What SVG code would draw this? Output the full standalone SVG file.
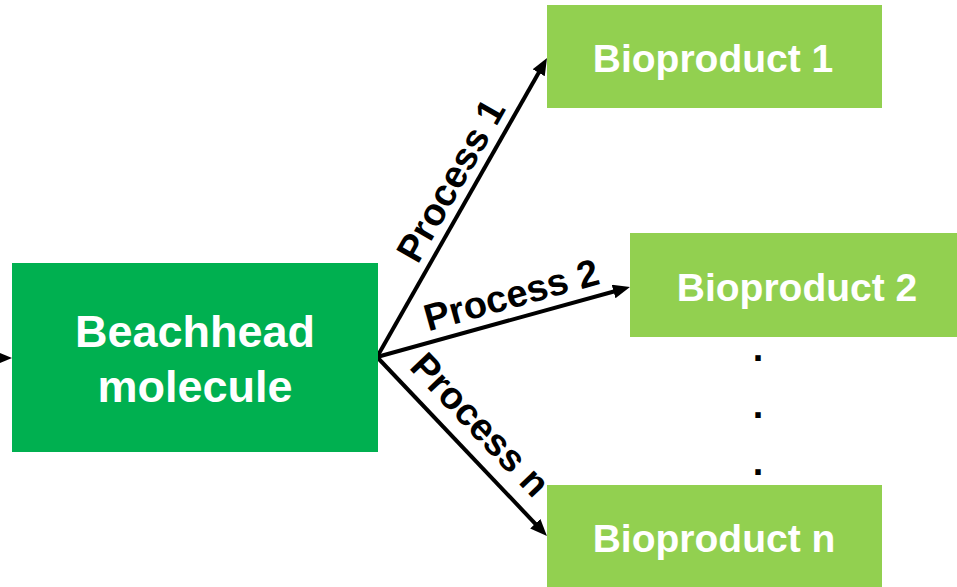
<svg xmlns="http://www.w3.org/2000/svg" width="957" height="587" viewBox="0 0 957 587">
  <style>
    .dark { fill: #00B050; }
    .light { fill: #92D050; }
    .label { font-family: "Liberation Sans", Arial, sans-serif; font-weight: bold; fill: #ffffff; text-anchor: middle; }
    .proc { font-family: "Liberation Sans", Arial, sans-serif; font-weight: bold; fill: #000000; text-anchor: middle; font-size: 38px; }
    .edge { stroke: #000000; stroke-width: 4; fill: none; marker-end: url(#head); }
  </style>
  <defs>
    <marker id="head" markerUnits="userSpaceOnUse" markerWidth="17" markerHeight="14" refX="5" refY="7" orient="auto">
      <path d="M0,0 L17,7 L0,14 z" fill="#000000"/>
    </marker>
  </defs>

  <rect width="957" height="587" fill="#ffffff"/>

  <g id="connectors">
    <line class="edge" x1="-12" y1="358" x2="0" y2="358"/>
    <line class="edge" x1="377" y1="357" x2="541.1" y2="68.4"/>
    <line class="edge" x1="377" y1="357" x2="618.4" y2="290.2"/>
    <line class="edge" x1="377" y1="357" x2="538.7" y2="527.3"/>
    <text class="proc" transform="translate(450,180) rotate(-60.4)" y="14">Process 1</text>
    <text class="proc" transform="translate(511,294) rotate(-15.5)" y="14">Process 2</text>
    <text class="proc" transform="translate(481,424) rotate(46.4)" y="14">Process n</text>
  </g>

  <g id="beachhead">
    <rect class="dark" x="12" y="263" width="366" height="189"/>
    <text class="label" x="195" y="347" font-size="45">Beachhead</text>
    <text class="label" x="195" y="402" font-size="45">molecule</text>
  </g>

  <g id="bioproduct-1">
    <rect class="light" x="547" y="5" width="335" height="103"/>
    <text class="label" x="713" y="72" font-size="39">Bioproduct 1</text>
  </g>

  <g id="bioproduct-2">
    <rect class="light" x="630" y="233" width="327" height="104"/>
    <text class="label" x="797" y="301" font-size="39">Bioproduct 2</text>
  </g>

  <g id="ellipsis">
    <text class="proc" x="758" y="361" font-size="48">.</text>
    <text class="proc" x="758" y="418" font-size="48">.</text>
    <text class="proc" x="758" y="475" font-size="48">.</text>
  </g>

  <g id="bioproduct-n">
    <rect class="light" x="547" y="485" width="335" height="102"/>
    <text class="label" x="714" y="552" font-size="39">Bioproduct n</text>
  </g>
</svg>
